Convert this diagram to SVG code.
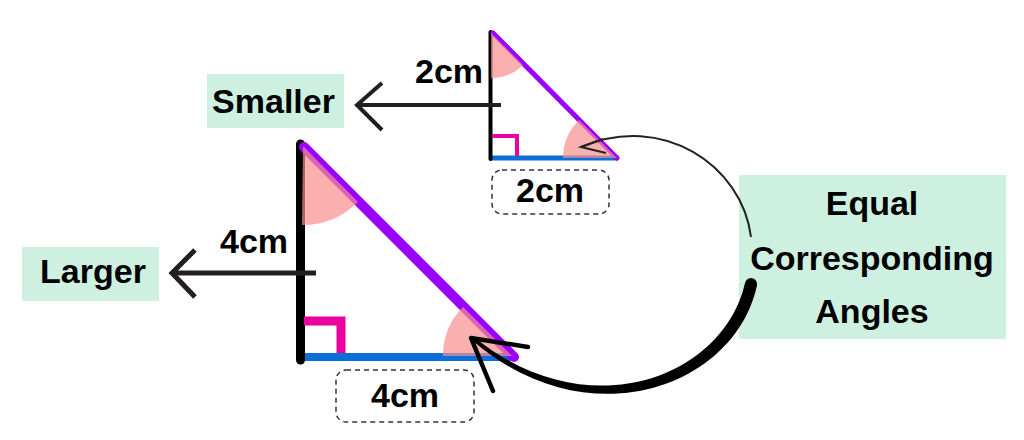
<svg xmlns="http://www.w3.org/2000/svg" width="1024" height="440" viewBox="0 0 1024 440">
<style>
.lbl{font-family:"Liberation Sans",Arial,sans-serif;font-weight:bold;font-size:34px;fill:#000;text-anchor:middle}
.box{fill:#cdf0e0}
.dash{fill:none;stroke:#333;stroke-width:1.5;stroke-dasharray:5 4}
.wedge{fill:#f98e8e;opacity:0.7}
.ra{fill:none;stroke:#ec00a0;stroke-linejoin:miter}
.arr{fill:none;stroke:#231f20;stroke-linecap:butt}
</style>
<rect width="1024" height="440" fill="#fff"/>
<g id="small-triangle">
  <line x1="490" y1="158" x2="618" y2="158" stroke="#0a6fd6" stroke-width="5"/>
  <line x1="490.5" y1="32" x2="490.5" y2="159" stroke="#000" stroke-width="4" stroke-linecap="round"/>
  <line x1="493" y1="33" x2="617" y2="158" stroke="#9900ff" stroke-width="5" stroke-linecap="round"/>
  <path class="wedge" d="M491,33 L491,78 A45,45 0 0 0 523,65 Z"/>
  <path class="wedge" d="M617,158 L563,158 A54,54 0 0 1 579,120 Z"/>
  <polyline class="ra" points="492,136 517,136 517,156" stroke-width="4"/>
</g>
<g id="large-triangle">
  <line x1="300" y1="357" x2="514" y2="357" stroke="#0a6fd6" stroke-width="8"/>
  <line x1="300.5" y1="144" x2="300.5" y2="360" stroke="#000" stroke-width="9" stroke-linecap="round"/>
  <line x1="304" y1="147" x2="514" y2="357" stroke="#9900ff" stroke-width="10" stroke-linecap="round"/>
  <path class="wedge" d="M303,146 L302,225 A79,79 0 0 0 358,202 Z"/>
  <path class="wedge" d="M512,356 L443,356 A69,69 0 0 1 463,307 Z"/>
  <polyline class="ra" points="304,321 341,321 341,353" stroke-width="9"/>
</g>
<g id="label-2cm-side"><text class="lbl" x="449" y="83">2cm</text></g>
<g id="label-2cm-base">
  <rect class="dash" x="492" y="170" width="117" height="44" rx="10"/>
  <text class="lbl" x="550" y="202">2cm</text>
</g>
<g id="label-4cm-side"><text class="lbl" x="254" y="253">4cm</text></g>
<g id="label-4cm-base">
  <rect class="dash" x="336" y="370" width="138" height="52" rx="10"/>
  <text class="lbl" x="405" y="407">4cm</text>
</g>
<g id="smaller">
  <rect class="box" x="207" y="74" width="137" height="54"/>
  <text class="lbl" x="273.5" y="113">Smaller</text>
</g>
<g id="larger">
  <rect class="box" x="22" y="247" width="137" height="54"/>
  <text class="lbl" x="93" y="283">Larger</text>
</g>
<g id="equal-angles">
  <rect class="box" x="739" y="175" width="267" height="164"/>
  <text class="lbl" x="872" y="215">Equal</text>
  <text class="lbl" x="872" y="270">Corresponding</text>
  <text class="lbl" x="872" y="323">Angles</text>
</g>
<g id="connectors">
  <line class="arr" x1="357" y1="105" x2="501" y2="105" stroke-width="4"/>
  <polyline class="arr" points="382,83 357,105 382,130" stroke-width="4"/>
  <line class="arr" x1="172" y1="273" x2="316" y2="273" stroke-width="5"/>
  <polyline class="arr" points="195,250 172,273 195,297" stroke-width="5"/>
  <path d="M751,237 C742,165 662,112 581,147" fill="none" stroke="#222" stroke-width="2"/>
  <polyline points="603,139 581,147 606,153" fill="none" stroke="#222" stroke-width="2"/>
  <path d="M757,285 C736,386 590,441 473,341 L475,338 C591,430 724,376 745,283 Z" fill="#000"/>
  <circle cx="751" cy="284" r="6" fill="#000"/>
  <polyline points="528,347 471,338 493,391" fill="none" stroke="#000" stroke-width="4.5" stroke-linecap="round" stroke-linejoin="round"/>
</g>
</svg>
